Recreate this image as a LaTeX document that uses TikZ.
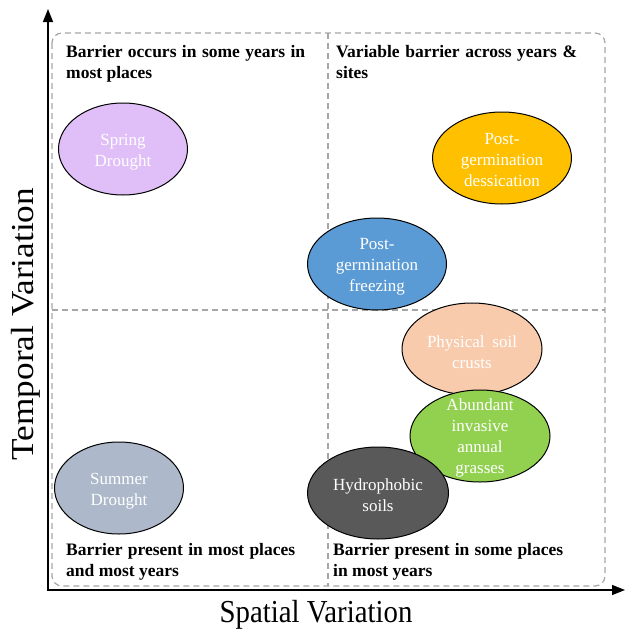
\documentclass[tikz,border=0pt]{standalone}
\usepackage{fontspec}
\setmainfont{Liberation Serif}
\usetikzlibrary{shapes.geometric,arrows.meta}
\definecolor{dashgray}{HTML}{A6A6A6}
\definecolor{springc}{HTML}{E0BFF8}
\definecolor{summerc}{HTML}{ADB9CA}
\definecolor{dessc}{HTML}{FFC000}
\definecolor{freezec}{HTML}{5B9BD5}
\definecolor{crustc}{HTML}{F8CBAD}
\definecolor{grassc}{HTML}{92D050}
\definecolor{hydroc}{HTML}{595959}
\tikzset{
  axisline/.style={draw=black, line width=1.3pt, -{Triangle[length=13pt,width=10pt]}},
  quad/.style={draw=dashgray, line width=1.2pt, dash pattern=on 6pt off 4pt},
  blob/.style={ellipse, draw=black, line width=1pt, inner sep=0pt, minimum width=140pt, minimum height=92pt, fill=#1},
  etext/.style={text=white, align=center, inner sep=0pt, font=\fontsize{17}{21}\selectfont},
  corner/.style={anchor=base west, inner sep=0pt, font=\fontsize{17.5}{21}\selectfont\bfseries},
  axislabel/.style={inner sep=0pt, anchor=base, font=\fontsize{32}{34}\selectfont},
}
\begin{document}
\begin{tikzpicture}[x=1pt,y=-1pt]
\useasboundingbox (0,0) rectangle (625,629);
% quadrant frame
\coordinate (q1) at (52,33);
\coordinate (q2) at (605,586);
\coordinate (vt) at (328,33);
\coordinate (vb) at (328,586);
\coordinate (hl) at (52,310);
\coordinate (hr) at (605,310);
\draw[quad, rounded corners=10pt] (q1) rectangle (q2);
\draw[quad] (vt) -- (vb);
\draw[quad] (hl) -- (hr);
% axes
\coordinate (O) at (48,590);
\coordinate (ytop) at (48,9);
\coordinate (xend) at (625,590);
\draw[axisline] (O) -- (ytop);
\draw[axisline] ([xshift=-0.65pt]O) -- (xend);
% axis labels
\node[axislabel] (xlab) at (316,622) {\scalebox{0.9}[1]{Spatial Variation}};
\node[axislabel, rotate=90] (ylab) at (33,324) {\scalebox{1.1}[1]{Temporal Variation}};
% corner labels
\node[corner] (tl) at (66,57) {\begin{tabular}[t]{@{}l@{}}\makebox[239pt][s]{Barrier occurs in some years in}\\most places\end{tabular}};
\node[corner] (tr) at (336,57) {\begin{tabular}[t]{@{}l@{}}\makebox[241pt][s]{Variable barrier across years \&}\\sites\end{tabular}};
\node[corner] (bl) at (66,555) {\begin{tabular}[t]{@{}l@{}}\makebox[229pt][s]{Barrier present in most places}\\and most years\end{tabular}};
\node[corner] (br) at (333,555) {\begin{tabular}[t]{@{}l@{}}\makebox[230pt][s]{Barrier present in some places}\\in most years\end{tabular}};
% ellipses
\node[blob=springc, minimum width=129pt] (spring) at (123,149) {};
\node[etext] (springT) at ([yshift=-3pt]spring.center) {Spring\\Drought};
\node[blob=dessc, minimum width=139pt] (dess) at (502,158) {};
\node[etext] (dessT) at ([yshift=-2pt]dess.center) {Post-\\germination\\dessication};
\node[blob=freezec, minimum width=139pt] (freeze) at (377,264) {};
\node[etext] (freezeT) at ([yshift=-3pt]freeze.center) {Post-\\germination\\freezing};
\node[blob=crustc] (crust) at (472,349) {};
\node[etext] (crustT) at ([yshift=-3pt]crust.center) {\makebox[90pt][s]{Physical soil}\\crusts};
\node[blob=grassc] (grass) at (480,436) {};
\node[etext] (grassT) at ([yshift=-2pt]grass.center) {Abundant\\invasive\\annual\\grasses};
\node[blob=hydroc, minimum width=141pt] (hydro) at (378,493) {};
\node[etext] (hydroT) at ([yshift=-2pt]hydro.center) {Hydrophobic\\soils};
\node[blob=summerc, minimum width=129pt] (summer) at (119,488) {};
\node[etext] (summerT) at ([yshift=-3pt]summer.center) {Summer\\Drought};
\end{tikzpicture}
\end{document}
